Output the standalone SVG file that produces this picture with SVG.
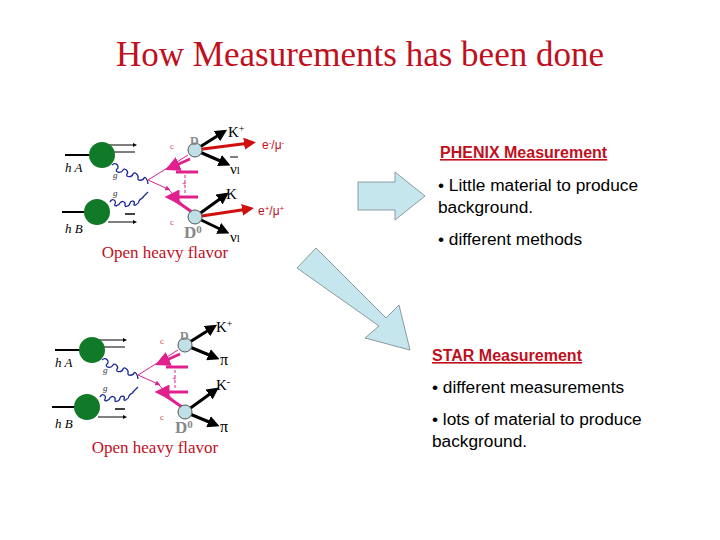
<svg xmlns="http://www.w3.org/2000/svg" xmlns:xlink="http://www.w3.org/1999/xlink" width="720" height="540" viewBox="0 0 720 540">
<style>
.t{font-family:"Liberation Serif",serif}
.s{font-family:"Liberation Sans",Arial,sans-serif}
.blk{stroke:#000;stroke-width:3}
.red{stroke:#d01010;stroke-width:3}
.mag{stroke:#e0208c}
.glu{fill:none;stroke:#1a2a9a;stroke-width:1.3}
.body{font-size:17.3px}
</style>
<defs>
<marker id="ab" markerWidth="4" markerHeight="4" refX="2" refY="2" orient="auto"><path d="M0,0L4,2L0,4z" fill="#000"/></marker>
<marker id="ar" markerWidth="4" markerHeight="4" refX="2" refY="2" orient="auto"><path d="M0,0L4,2L0,4z" fill="#d01010"/></marker>
<marker id="am" markerWidth="5" markerHeight="5" refX="2.5" refY="2.5" orient="auto"><path d="M0,0L5,2.5L0,5z" fill="#e0208c"/></marker>
<g id="base">
<line x1="65" y1="155" x2="102" y2="155" stroke="#000" stroke-width="2"/>
<line x1="62" y1="212" x2="97" y2="212" stroke="#000" stroke-width="2"/>
<line x1="108" y1="145" x2="135" y2="145" stroke="#000" stroke-width="1" marker-end="url(#ab)"/>
<line x1="112" y1="152" x2="135" y2="152" stroke="#000" stroke-width="1"/>
<line x1="125" y1="214" x2="135" y2="214" stroke="#000" stroke-width="1.5"/>
<line x1="108" y1="222" x2="135" y2="222" stroke="#000" stroke-width="1" marker-end="url(#ab)"/>
<path class="glu" d="M112,165 c4,-4 8,2 5,4 c-3,3 4,5 6,1 c2,-3 6,2 4,4 c-2,3 5,4 6,0 c1,-3 6,1 5,4 c-1,3 5,3 6,0 c1,-2 4,2 4,6"/>
<path class="glu" d="M110,202 c2,-5 7,-1 5,2 c-2,3 4,2 5,-1 c2,-3 6,-1 5,2 c-1,3 5,1 5,-2 c1,-3 6,-2 4,1 c-1,3 5,0 5,-3 c1,-3 5,-3 4,-4 l5,-5"/>
<circle cx="102" cy="155" r="13" fill="#117a28"/>
<circle cx="97" cy="212" r="13" fill="#117a28"/>
<text x="65" y="172" class="t" font-size="13" font-style="italic">h A</text>
<text x="65" y="233" class="t" font-size="13" font-style="italic">h B</text>
<text x="113" y="178" class="t" font-size="9" font-style="italic" fill="#333">g</text>
<text x="113" y="196" class="t" font-size="9" font-style="italic" fill="#333">g</text>
<line x1="148" y1="180" x2="188" y2="155" class="mag" stroke-width="1"/>
<line x1="148" y1="180" x2="168" y2="189" class="mag" stroke-width="1" marker-end="url(#am)"/>
<line x1="168" y1="189" x2="190" y2="212" class="mag" stroke-width="1"/>
<line x1="190" y1="159" x2="172" y2="167" class="mag" stroke-width="3" marker-end="url(#am)"/>
<line x1="198" y1="172" x2="176" y2="172" class="mag" stroke-width="3"/>
<line x1="198" y1="197" x2="172" y2="197" class="mag" stroke-width="3" marker-end="url(#am)"/>
<line x1="192" y1="212" x2="176" y2="201" class="mag" stroke-width="3"/>
<line x1="185" y1="175" x2="185" y2="195" class="mag" stroke-width="1" stroke-dasharray="3,2"/>
<text x="170" y="149" class="t" font-size="9" fill="#d05050">c</text>
<text x="170" y="225" class="t" font-size="9" fill="#d05050">c</text>
<text x="182" y="186" class="t" font-size="8" fill="#e0208c">+</text>
</g>
</defs>
<rect width="720" height="540" fill="#fff"/>
<text x="360" y="66" text-anchor="middle" class="t" font-size="35" fill="#c0101e">How Measurements has been done</text>

<g id="diagram-top">
<use xlink:href="#base"/>
<line class="blk" x1="195" y1="150" x2="222" y2="133" marker-end="url(#ab)"/>
<line class="red" x1="195" y1="150" x2="250" y2="143" marker-end="url(#ar)"/>
<line class="blk" x1="195" y1="150" x2="225" y2="163" marker-end="url(#ab)"/>
<line class="blk" x1="195" y1="217" x2="224" y2="196" marker-end="url(#ab)"/>
<line class="red" x1="195" y1="217" x2="248" y2="209" marker-end="url(#ar)"/>
<line class="blk" x1="195" y1="217" x2="224" y2="231" marker-end="url(#ab)"/>
<circle cx="195" cy="150" r="7" fill="#bfe0e6" stroke="#555"/>
<circle cx="195" cy="217" r="7" fill="#bfe0e6" stroke="#555"/>
<text x="228" y="137" class="t" font-size="15">K<tspan font-size="10" dy="-5">+</tspan></text>
<text x="262" y="149" class="s" font-size="12" fill="#c0101e">e<tspan font-size="8" dy="-4">-</tspan><tspan dy="4">/μ</tspan><tspan font-size="8" dy="-4">-</tspan></text>
<text x="230" y="174" class="t" font-size="15">ν<tspan font-size="11">l</tspan></text>
<line x1="230" y1="157" x2="238" y2="157" stroke="#000"/>
<text x="226" y="199" class="t" font-size="15">K</text>
<text x="258" y="215" class="s" font-size="12" fill="#c0101e">e<tspan font-size="8" dy="-4">+</tspan><tspan dy="4">/μ</tspan><tspan font-size="8" dy="-4">+</tspan></text>
<text x="230" y="242" class="t" font-size="15">ν<tspan font-size="11">l</tspan></text>
<text x="184" y="238" class="t" font-size="17" font-weight="bold" fill="#888">D<tspan font-size="11" dy="-5">0</tspan></text>
<text x="190" y="145" class="t" font-size="12" font-weight="bold" fill="#888">D</text>
<text x="165" y="258" text-anchor="middle" class="t" font-size="17" fill="#c0101e">Open heavy flavor</text>
</g>

<g id="diagram-bottom">
<use xlink:href="#base" transform="translate(-10,195)"/>
<line class="blk" x1="185" y1="345" x2="212" y2="328" marker-end="url(#ab)"/>
<line class="blk" x1="185" y1="345" x2="214" y2="357" marker-end="url(#ab)"/>
<line class="blk" x1="185" y1="412" x2="214" y2="391" marker-end="url(#ab)"/>
<line class="blk" x1="185" y1="412" x2="214" y2="424" marker-end="url(#ab)"/>
<circle cx="185" cy="345" r="7" fill="#bfe0e6" stroke="#555"/>
<circle cx="185" cy="412" r="7" fill="#bfe0e6" stroke="#555"/>
<text x="216" y="332" class="t" font-size="15">K<tspan font-size="10" dy="-5">+</tspan></text>
<text x="220" y="365" class="t" font-size="16">π</text>
<text x="216" y="390" class="t" font-size="15">K<tspan font-size="10" dy="-5">-</tspan></text>
<text x="220" y="432" class="t" font-size="16">π</text>
<text x="175" y="433" class="t" font-size="17" font-weight="bold" fill="#888">D<tspan font-size="11" dy="-5">0</tspan></text>
<text x="180" y="340" class="t" font-size="12" font-weight="bold" fill="#888">D</text>
<text x="155" y="453" text-anchor="middle" class="t" font-size="17" fill="#c0101e">Open heavy flavor</text>
</g>

<g id="arrows">
<path d="M358,182 L395,182 L395,172 L425,196 L395,220 L395,210 L358,210 Z" fill="#c5e6ec" stroke="#8a9aa0"/>
<path d="M297,268 L316,248 L386,318 L399,305 L410,350 L365,338 L379,326 Z" fill="#c5e6ec" stroke="#8a9aa0"/>
</g>

<g id="phenix">
<text x="440" y="158" class="s" font-size="16" font-weight="bold" fill="#c0101e" text-decoration="underline">PHENIX Measurement</text>
<text x="438" y="191" class="s body">• Little material to produce</text>
<text x="438" y="213" class="s body">background.</text>
<text x="438" y="245" class="s body">• different methods</text>
</g>
<g id="star">
<text x="432" y="361" class="s" font-size="16" font-weight="bold" fill="#c0101e" text-decoration="underline">STAR Measurement</text>
<text x="432" y="393" class="s body">• different measurements</text>
<text x="432" y="425" class="s body">• lots of material to produce</text>
<text x="432" y="447" class="s body">background.</text>
</g>
</svg>
